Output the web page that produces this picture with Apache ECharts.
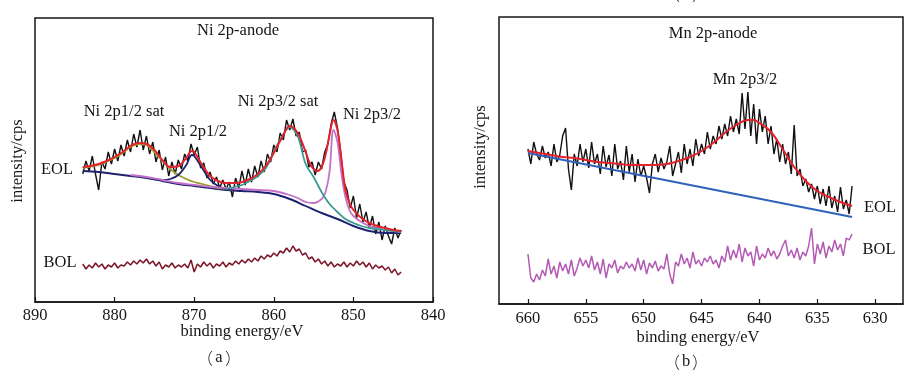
<!DOCTYPE html>
<html>
<head>
<meta charset="utf-8">
<script src="https://cdn.jsdelivr.net/npm/echarts@6/dist/echarts.min.js"></script>
<style>
html, body { margin: 0; padding: 0; background: #fff; }
#chart { width: 916px; height: 376px; }
</style>
</head>
<body>
<div id="chart"></div>
<script>
// Ni 2p panel (a) -- intensities are arbitrary units
var niStart = 884, niStep = 0.4;
var niEol = [
  128,141,131,146,128,112,140,133,150,138,
  153,141,157,146,162,150,168,155,172,152,
  166,148,160,140,152,132,145,126,140,128,
  142,133,148,141,158,147,155,134,139,124,
  130,118,125,114,122,113,120,105,124,114,
  131,117,133,120,136,125,141,130,148,140,
  157,150,169,162,182,172,183,166,170,150,
  152,135,140,127,140,133,150,158,178,190,
  174,150,120,112,94,106,84,98,80,90,
  74,86,68,80,62,76,66,58,74,64,
  72
];
var niBol = [
  38,33,37,34,39,35,38,33,37,35,
  39,34,37,36,40,37,41,38,42,39,
  43,38,41,36,40,33,37,35,39,34,
  37,35,38,34,42,30,38,35,40,36,
  39,34,38,36,40,35,39,37,41,38,
  42,39,43,40,44,41,46,43,47,45,
  49,46,51,49,54,50,56,51,53,47,
  49,43,45,40,43,38,41,36,40,35,
  38,36,40,35,39,36,41,37,40,35,
  39,33,37,34,36,32,35,29,33,27,
  30
];
var niEnvEv = [884,883,882,881,880,879,878,877,876,875,874,873,872,871,870.3,870,869,868,867,866,865,864,863,862,861,860,859,858,857,856,855.5,855,854.5,854,853.5,853,852.5,852,851.5,851,850.5,850,849,848,847,846,845,844];
var niEnv   = [135,136,138,141,145,150,156,159,158,152,142,135,136,144,151,150,137,126,121,119,119,120,123,128,136,149,164,176,169,150,139,133,131,135,147,167,182,172,142,112,99,92,84,79,76,74,72,71];
var niBgEv = [884,882,880,878,876,874,872,870,868,866,864,862,860,858,856,854,852,850,848,846,844];
var niBg   = [131,130,128,126,124,121,118,116,114,112,111,110,108,103,96,89,83,76,71,69,69];
var niSat1Ev = [884,882,880,879,878,877,876,875,874,873,872,871,870,869,868,867,866,865];
var niSat1   = [134,137,144,149,155,158,157,150,141,133,127,123,120,118,116,114,113,112];
var niP12Ev = [875,874,873,872,871,870.3,870,869,868,867,866,865];
var niP12   = [123,122,123,127,137,147,146,134,122,116,113,112];
var niP32Ev = [878,876,874,872,870,868,866,864,862,860,858,857,856,855,854,853.5,853,852.5,852,851.5,851,850.5,850,849,848,847,846,845,844];
var niP32   = [127,125,122,119,117,115,114,113,112,111,107,104,100,99,103,110,130,172,160,128,105,92,86,80,76,74,72,71,70];
var niSat3Ev = [866,865,864,863,862,861,860,859,858,857,856,855,854,853,852,851,850,849,848,846,844];
var niSat3   = [113,115,117,121,126,134,150,165,175,166,138,125,110,98,90,83,79,76,74,72,70];

// Mn 2p panel (b)
var mnStart = 660, mnStep = 0.25;
var mnEol = [
  155,140,162,150,144,158,146,152,138,160,
  142,149,168,176,135,114,150,138,160,142,
  155,136,162,140,150,130,158,137,149,128,
  160,135,143,124,158,132,150,122,145,128,
  138,126,111,140,150,132,146,135,142,158,
  128,140,152,131,160,140,155,138,165,148,
  160,150,172,155,168,160,178,165,180,168,
  188,172,185,170,211,175,212,168,200,160,
  195,172,188,160,178,150,165,142,160,140,
  152,130,179,128,135,118,125,112,120,105,
  118,100,115,98,118,96,108,92,117,95,
  104,90,118
];
var mnBol = [
  50,26,22,30,24,34,28,45,30,38,
  26,42,33,40,30,44,28,36,46,38,
  44,36,48,34,42,30,45,26,40,36,
  44,31,38,35,42,36,40,33,46,34,
  44,30,41,36,43,33,38,35,50,30,
  20,42,38,50,40,46,36,52,40,44,
  38,46,42,48,40,44,36,48,42,58,
  44,54,46,60,42,56,48,52,38,58,
  44,50,46,56,48,53,45,50,58,64,
  48,54,46,56,44,52,48,58,76,40,
  60,50,62,46,58,52,64,54,60,48,
  66,64,70
];
var mnFitEv = [660,659,658,657,656,655,654,653,652,651,650,649,648,647,646,645,644,643,642,641,640.5,640,639,638,637,636,635,634,633,632];
var mnFit   = [153,151,149,147,146,144,142,141,140,139,139,139,140,143,147,153,161,171,179,184,184,181,172,155,137,123,113,107,102,98];
var mnBgEv = [660,632];
var mnBg   = [151,87];
var mnTicks = [660,655,650,645,640,635,630];

var FONT = '"Liberation Serif", "Times New Roman", serif';
var INK = '#161616';

function pairs(ev, vals) {
  return ev.map(function (e, i) { return [e, vals[i]]; });
}
function sampled(start, step, vals) {
  return vals.map(function (v, i) { return [+(start - i * step).toFixed(2), v]; });
}
function line(data, color, width, gi, smooth) {
  return {
    type: 'line', data: data, xAxisIndex: gi, yAxisIndex: gi,
    showSymbol: false, smooth: smooth ? 0.35 : false, silent: true,
    lineStyle: { color: color, width: width }
  };
}
function label(text, x, y, rot) {
  return {
    type: 'text', x: x, y: y, rotation: rot || 0, silent: true,
    style: {
      text: text, fill: INK, font: '16.5px ' + FONT,
      textAlign: 'center', textVerticalAlign: 'middle'
    }
  };
}
// caption like （a） : full-width brackets, letter in serif
function caption(letter, x, y) {
  return {
    type: 'group', x: x, y: y, silent: true,
    children: [
      { type: 'text', x: -14, style: { text: '（', fill: INK, font: '300 16px "Noto Sans CJK SC"', textAlign: 'center', textVerticalAlign: 'middle' } },
      { type: 'text', x: 0, style: { text: letter, fill: INK, font: '16.5px ' + FONT, textAlign: 'center', textVerticalAlign: 'middle' } },
      { type: 'text', x: 14, style: { text: '）', fill: INK, font: '300 16px "Noto Sans CJK SC"', textAlign: 'center', textVerticalAlign: 'middle' } }
    ]
  };
}
function xAxisBase(gi) {
  return {
    gridIndex: gi, type: 'value', inverse: true,
    axisLine: { show: true, onZero: false, lineStyle: { color: INK, width: 1.5 } },
    axisTick: { show: true, inside: true, length: 5, lineStyle: { color: INK, width: 1.2 } },
    axisLabel: { color: INK, fontFamily: FONT, fontSize: 16.5, margin: 5 },
    splitLine: { show: false }
  };
}

var chart = echarts.init(document.getElementById('chart'), null, { renderer: 'canvas' });

var xa = xAxisBase(0);
xa.min = 840; xa.max = 890; xa.interval = 10;
var xb = xAxisBase(1);
xb.min = 627.6; xb.max = 662.5;
xb.axisTick.customValues = mnTicks;
xb.axisLabel.customValues = mnTicks;
xb.axisLabel.margin = 6;

chart.setOption({
  animation: false,
  backgroundColor: '#fff',
  grid: [
    { left: 35, top: 18, width: 398, height: 284, show: true, borderColor: INK, borderWidth: 1.5 },
    { left: 499, top: 17, width: 404, height: 287, show: true, borderColor: INK, borderWidth: 1.5 }
  ],
  xAxis: [xa, xb],
  yAxis: [
    { gridIndex: 0, type: 'value', min: 0, max: 284, show: false },
    { gridIndex: 1, type: 'value', min: 0, max: 287, show: false }
  ],
  series: [
    line(sampled(niStart, niStep, niEol), '#111', 1.4, 0, false),
    line(sampled(niStart, niStep, niBol), '#7b1424', 1.5, 0, false),
    line(pairs(niBgEv, niBg), '#1c2270', 1.9, 0, true),
    line(pairs(niSat1Ev, niSat1), '#a09c30', 1.8, 0, true),
    line(pairs(niP12Ev, niP12), '#1c2270', 1.8, 0, true),
    line(pairs(niP32Ev, niP32), '#c470c8', 1.8, 0, true),
    line(pairs(niSat3Ev, niSat3), '#3c9a96', 1.8, 0, true),
    line(pairs(niEnvEv, niEnv), '#e3232b', 2, 0, true),

    line(sampled(mnStart, mnStep, mnEol), '#111', 1.4, 1, false),
    line(sampled(mnStart, mnStep, mnBol), '#b25ab4', 1.5, 1, false),
    line(pairs(mnBgEv, mnBg), '#2f62b8', 1.8, 1, false),
    line(pairs(mnFitEv, mnFit), '#e3232b', 2, 1, true)
  ],
  graphic: [
    label('Ni 2p-anode', 238, 31),
    label('Ni 2p1/2 sat', 124, 112),
    label('Ni 2p1/2', 198, 132),
    label('Ni 2p3/2 sat', 278, 102),
    label('Ni 2p3/2', 372, 115),
    label('EOL', 57, 170),
    label('BOL', 60, 263),
    label('intensity/cps', 18, 161, Math.PI / 2),
    label('binding energy/eV', 242, 332),
    caption('a', 219, 358),

    caption('a', 686, -6),
    label('Mn 2p-anode', 713, 34),
    label('Mn 2p3/2', 745, 80),
    label('EOL', 880, 208),
    label('BOL', 879, 250),
    label('intensity/cps', 481, 147, Math.PI / 2),
    label('binding energy/eV', 698, 338),
    caption('b', 686, 362)
  ]
});
</script>
</body>
</html>
